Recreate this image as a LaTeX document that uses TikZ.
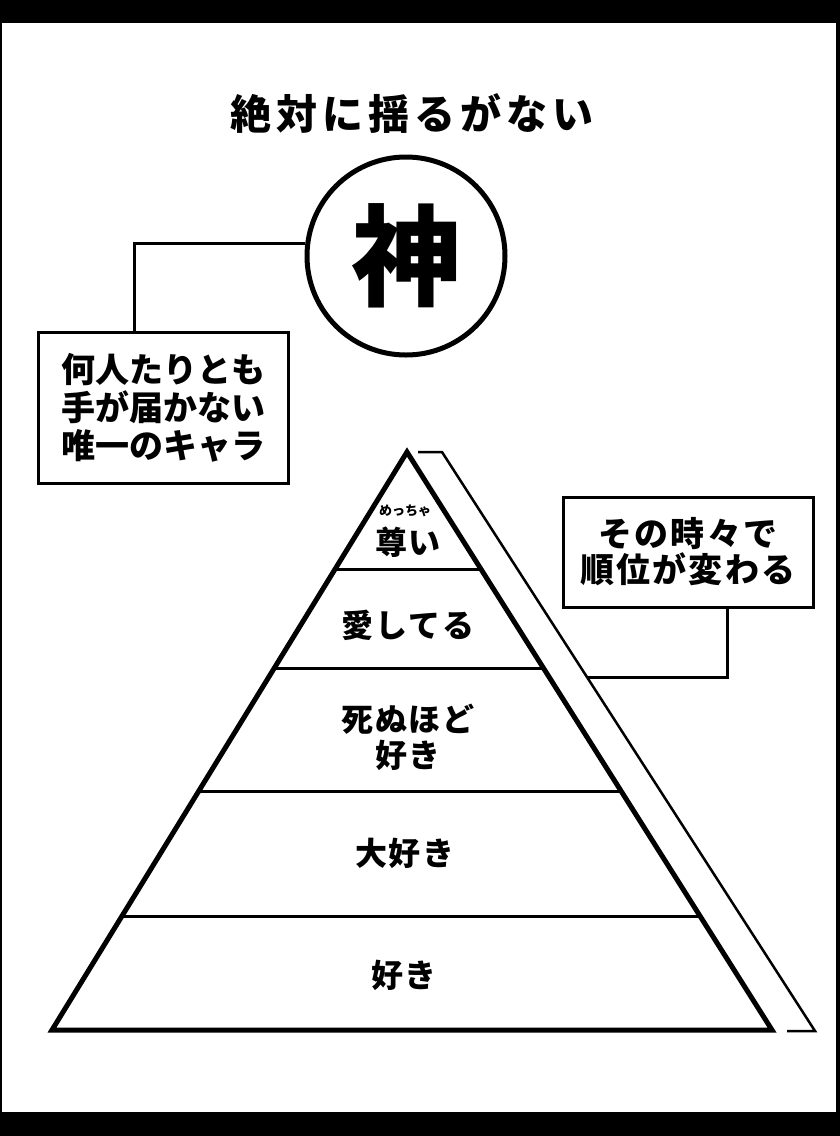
\documentclass[tikz,border=0pt]{standalone}
\usepackage{fontspec}
\newfontfamily\jp{Noto Sans CJK JP}
\newfontfamily\jptitle{Noto Sans CJK JP}[LetterSpace=12]
\newfontfamily\jpwide{Noto Sans CJK JP}[LetterSpace=6]
\usetikzlibrary{calc}
\tikzset{
  box/.style={draw, line width=3pt, fill=white, minimum width=250pt, align=center, inner sep=0pt},
  conn/.style={line width=3pt},
  layer/.style={line width=3pt},
  lbl/.style={font=\jpwide\bfseries\fontsize{32}{36}\selectfont, align=center, inner sep=0pt},
}
\begin{document}
\begin{tikzpicture}[x=1pt,y=-1pt]
\useasboundingbox (0,0) rectangle (840,1136);
% black frame bands
\fill[black] (0,0) rectangle (840,23);
\fill[black] (0,1112) rectangle (840,1136);
\fill[black] (0,0) rectangle (2,1136);
\fill[black] (836,0) rectangle (840,1136);

% title
\node[font=\jptitle\bfseries\fontsize{41}{41}\selectfont, inner sep=0pt] (title) at (412,113) {絶対に揺るがない};

% god circle
\node[draw, circle, line width=5pt, minimum size=198pt, inner sep=0pt,
      font=\jp\bfseries\fontsize{110}{110}\selectfont] (god) at (406,256) {神};

% left box
\node[box, minimum height=151pt, font=\jp\bfseries\fontsize{34}{38}\selectfont] (lbox) at (163,407.5)
  {何人たりとも\\手が届かない\\唯一のキャラ};
\coordinate (lj) at ($(lbox.north west)!0.388!(lbox.north east)$);
\draw[conn] (god.173) -| (lj);

% pyramid
\coordinate (apex) at (407,452);
\coordinate (bl) at (52,1030);
\coordinate (br) at (772,1030);
\foreach \t/\n in {0.204/a, 0.374/b, 0.588/c, 0.803/d}{
  \coordinate (L\n) at ($(apex)!\t!(bl)$);
  \coordinate (R\n) at ($(apex)!\t!(br)$);
}
\draw[layer] (La) -- (Ra);
\draw[layer] (Lb) -- (Rb);
\draw[layer] (Lc) -- (Rc);
\draw[layer] (Ld) -- (Rd);
\draw[line width=5pt, line join=miter] (apex) -- (br) -- (bl) -- cycle;

% side bracket line
\coordinate (s1) at (418,452);
\coordinate (s2) at (442,452);
\coordinate (s3) at (815,1031);
\coordinate (s4) at (787,1031);
\draw[line width=2.5pt] (s1) -- (s2) -- (s3) -- (s4);

% right box
\node[box, minimum height=110pt, font=\jpwide\bfseries\fontsize{34}{36}\selectfont] (rbox) at (688,552)
  {その時々で\\順位が変わる};
\coordinate (rj) at ($(rbox.south west)!0.656!(rbox.south east)$);
\coordinate (sj) at ($(s2)!0.3886!(s3)$);
\draw[conn] (rj) |- (sj);

% layer labels
\node[font=\jp\bfseries\fontsize{13}{13}\selectfont, inner sep=0pt] (ruby) at (405,511) {めっちゃ};
\node[lbl] (l1) at (408,542) {尊い};
\node[lbl] (l2) at (408,625) {愛してる};
\node[lbl] (l3) at (408,737) {死ぬほど\\好き};
\node[lbl] (l4) at (405,853) {大好き};
\node[lbl] (l5) at (404,975) {好き};
\end{tikzpicture}
\end{document}
